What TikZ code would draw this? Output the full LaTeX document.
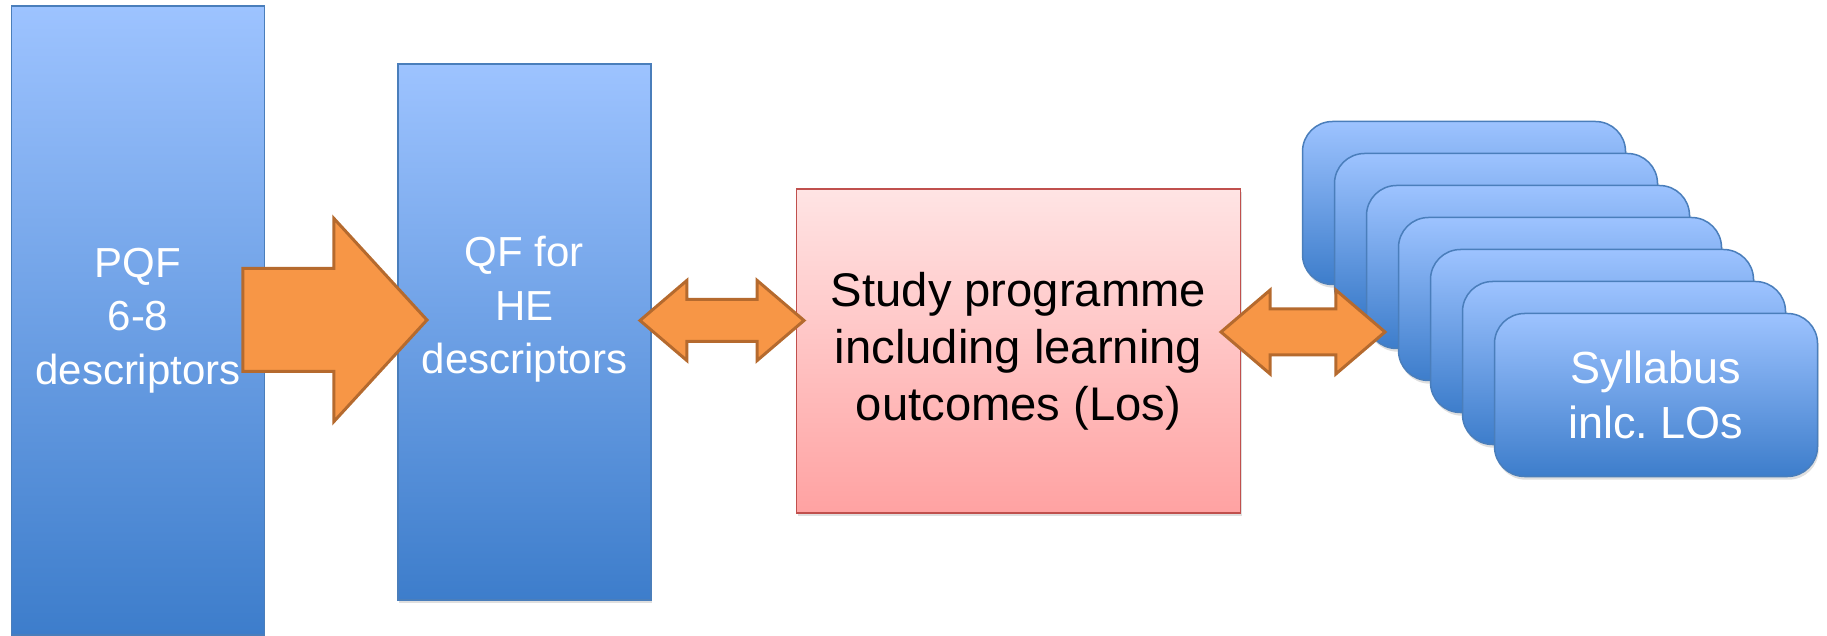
\documentclass[tikz,border=0pt]{standalone}
\usepackage{fontspec}
\setmainfont{Liberation Sans}
\frenchspacing
\usetikzlibrary{positioning, calc, shapes.arrows, shadows}
\definecolor{blueTop}{RGB}{157,195,255}
\definecolor{blueBot}{RGB}{61,125,203}
\definecolor{blueLine}{RGB}{74,126,187}
\definecolor{pinkTop}{RGB}{255,228,228}
\definecolor{pinkBot}{RGB}{255,162,162}
\definecolor{pinkLine}{RGB}{192,80,77}
\definecolor{orangeFill}{RGB}{247,150,70}
\definecolor{orangeLine}{RGB}{181,106,46}

\begin{document}
\begin{tikzpicture}[
	  x=0.5pt, y=-0.5pt,
	  box/.style={
	    draw=blueLine,
	    line width=0.75pt,
	    top color=blueTop,
	    bottom color=blueBot,
	    text=white,
	    align=center,
	    inner sep=0pt,
	    minimum width=126.5pt,
	    font=\fontsize{21}{26.8}\selectfont
	  },
	  softshadow/.style={drop shadow={shadow xshift=0.6pt, shadow yshift=-1.6pt, opacity=0.25}},
	  progbox/.style={box,softshadow,draw=pinkLine,top color=pinkTop,bottom color=pinkBot,text=black,
	    minimum width=222pt,font=\fontsize{23.6}{28.5}\selectfont},
	  sylbox/.style={box,softshadow,rounded corners=15pt,minimum width=161.5pt,minimum height=81.5pt,
	    font=\fontsize{22.5}{27.5}\selectfont},
	  bigarrow/.style={single arrow,draw=orangeLine,fill=orangeFill,line width=1.5pt,
	    minimum height=92pt,minimum width=100pt,inner xsep=0pt,inner ysep=25pt,
	    single arrow head extend=25pt,single arrow tip angle=95},
	  dblarrow/.style={double arrow,draw=orangeLine,fill=orangeFill,line width=1.5pt,
	    minimum height=82pt,minimum width=38.5pt,inner xsep=0pt,inner ysep=9.75pt,
	    double arrow head extend=9.5pt,double arrow tip angle=81}
	]
	
	\useasboundingbox (0,0) rectangle (1827,636);
	
	\node[box, minimum height=314.5pt] (pqf) at (138,320.5) {PQF\\6-8\\descriptors};
	\node[box, softshadow, minimum height=268pt, right=66pt of pqf, yshift=-5.75pt] (qf) {QF for\\HE\\descriptors\\\mbox{}};
	\node[progbox, minimum height=162pt, right=72pt of qf, yshift=-9.5pt] (prog) {Study programme\\including learning\\outcomes (Los)};
	
	\foreach \i in {0,...,5}
	  \node[sylbox] (syl\i) at (1464+32*\i,203+32*\i) {};
	\node[sylbox] (syl6) at (1656,395) {Syllabus\\inlc. LOs};
	
	\node[bigarrow, anchor=tip] (pqf2qf) at (429,320) {};
	\node[dblarrow] (qf2prog) at (722,320.5) {};
	\node[dblarrow, minimum width=41.5pt, inner ysep=10.75pt] (prog2syl) at (1303,332) {};
	
	\end{tikzpicture}
\end{document}
